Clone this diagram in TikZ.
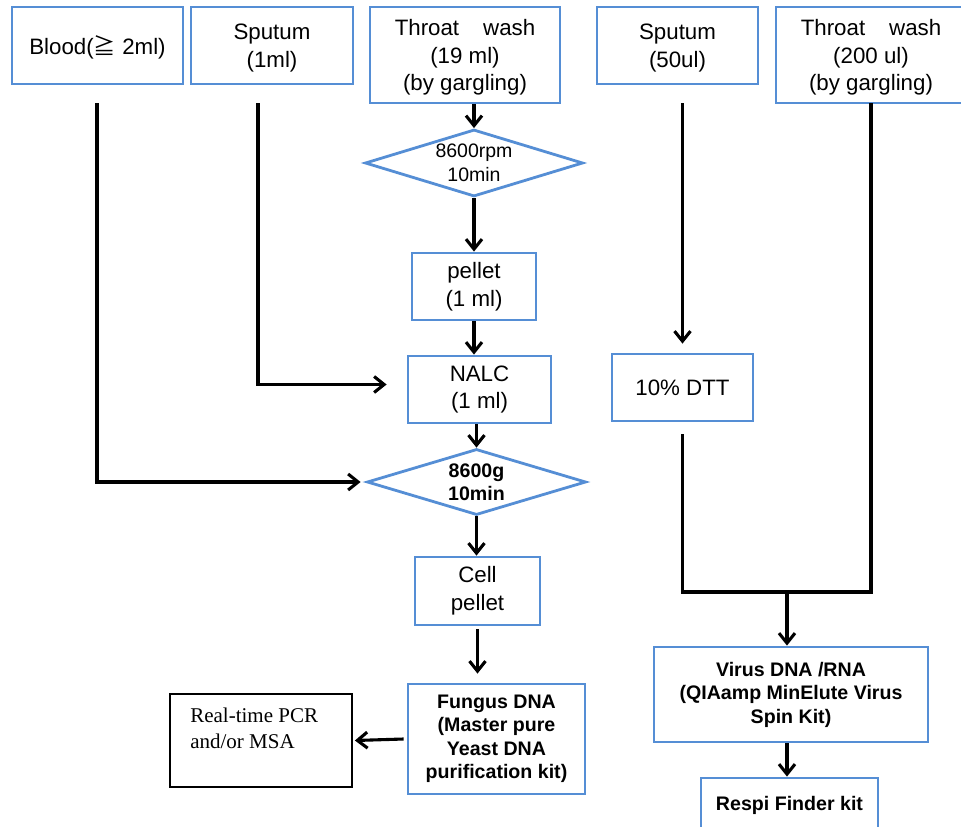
\documentclass[tikz,border=0pt]{standalone}
\usepackage{fontspec}
\setmainfont{Liberation Sans}
\newfontfamily\timesf{Liberation Serif}
\newfontfamily\cjkf{Noto Sans CJK SC}
\usetikzlibrary{arrows.meta,shapes.geometric,calc}
\definecolor{bl}{HTML}{558ED5}
\begin{document}
\begin{tikzpicture}[x=1pt,y=-1pt,
  bbox/.style={draw=bl,line width=2.8pt,rectangle,inner sep=0pt,align=center,
    font=\fontsize{22.3}{27.7}\selectfont},
  topbox/.style={bbox,text depth=0pt},
  bdia/.style={draw=bl,line width=2.8pt,diamond,aspect=3.25,inner sep=0pt,align=center,
    font=\fontsize{19.5}{23.5}\selectfont},
  boldtxt/.style={font=\fontsize{19.6}{23.5}\selectfont\bfseries},
  ln/.style={line width=3.1pt,line join=miter},
  arr/.style={line width=3.1pt,-{Straight Barb[length=10pt,width=16pt,line width=3.1pt]}},
  rtbox/.style={draw=black,line width=1.8pt,rectangle,inner sep=0pt},
]
\useasboundingbox (0,0) rectangle (961,827);
\fill[white] (0,0) rectangle (961,827);

% top sources
\node[topbox,minimum width=171,minimum height=77] (blood) at (97.5,45.5) {Blood({\cjkf ≧} 2ml)};
\node[topbox,minimum width=162,minimum height=77] (sp1) at (272,45.5) {Sputum\\(1ml)};
\node[topbox,minimum width=190,minimum height=96] (tw1) at (465,55) {Throat\hspace{24pt}wash\\(19 ml)\\(by gargling)};
\node[topbox,minimum width=161,minimum height=77] (sp2) at (677.5,45.5) {Sputum\\(50ul)};
\node[topbox,minimum width=190,minimum height=96] (tw2) at (871,55) {Throat\hspace{24pt}wash\\(200 ul)\\(by gargling)};

% central chain
\node[bdia,minimum width=218,minimum height=67] (d1) at (474,163) {8600rpm\\10min};
\node[bbox,minimum width=124,minimum height=67] (pellet) at (474,286.5) {pellet\\(1 ml)};
\node[bbox,minimum width=143,minimum height=67] (nalc) at (479.5,389.5) {NALC\\(1 ml)};
\node[bdia,boldtxt,minimum width=219,minimum height=66] (d2) at (476.5,482) {8600g\\10min};
\node[bbox,minimum width=125,minimum height=68] (cell) at (477.5,591) {Cell\\pellet};
\node[bbox,boldtxt,minimum width=177,minimum height=110] (fungus) at (496.5,739) {Fungus DNA\\(Master pure\\Yeast DNA\\purification kit)};
\node[rtbox,minimum width=182,minimum height=93] (rt) at (261,740.5) {};
\node[anchor=north west,inner sep=0pt,align=left,font=\timesf\fontsize{21}{25.7}\selectfont]
  (rttxt) at ([shift={(21pt,-15pt)}]rt.north west) {Real-time PCR\\and/or MSA};

% right chain
\node[bbox,minimum width=141,minimum height=67] (dtt) at (682.5,387.5) {10\% DTT};
\node[bbox,boldtxt,minimum width=274,minimum height=95] (virus) at (791,694.5) {Virus DNA /RNA\\(QIAamp MinElute Virus\\Spin Kit)};
\node[bbox,boldtxt,minimum width=177,minimum height=54] (respi) at (789.5,805) {Respi Finder kit};

% free line ends
\coordinate (bt) at (97,103);
\coordinate (st) at (258,103);
\coordinate (s2t) at (682.5,103);
\coordinate (t2t) at (871,103);
\coordinate (dttb) at ([yshift=-12pt]dtt.south);
\coordinate (j) at (787,592);
\coordinate (jr) at (871,592);

% connectors
\draw[arr] (tw1.south -| d1.north) -- (d1.north);
\draw[arr] (d1.south) -- (pellet.north);
\draw[arr] (pellet.south) -- (pellet.south |- nalc.north);
\draw[arr] (d2.north |- nalc.south) -- (d2.north);
\draw[arr] (d2.south) -- (d2.south |- cell.north);
\draw[arr] ([yshift=-3pt]cell.south) -- ([yshift=9pt]cell.south |- fungus.north);
\draw[arr] ([xshift=-3pt]fungus.west) -- ([xshift=2pt]rt.east);
\draw[arr] (bt) |- ([xshift=-5pt]d2.west);
\draw[arr] (st) |- ([xshift=-20pt,yshift=5pt]nalc.west);
\draw[arr] (s2t) -- ([yshift=9pt]dtt.north);
\draw[ln] (dttb) |- (jr) -- (t2t);
\draw[arr] (j) -- (virus.north -| j);
\draw[arr] (virus.south -| j) -- (respi.north -| j);
\end{tikzpicture}
\end{document}
